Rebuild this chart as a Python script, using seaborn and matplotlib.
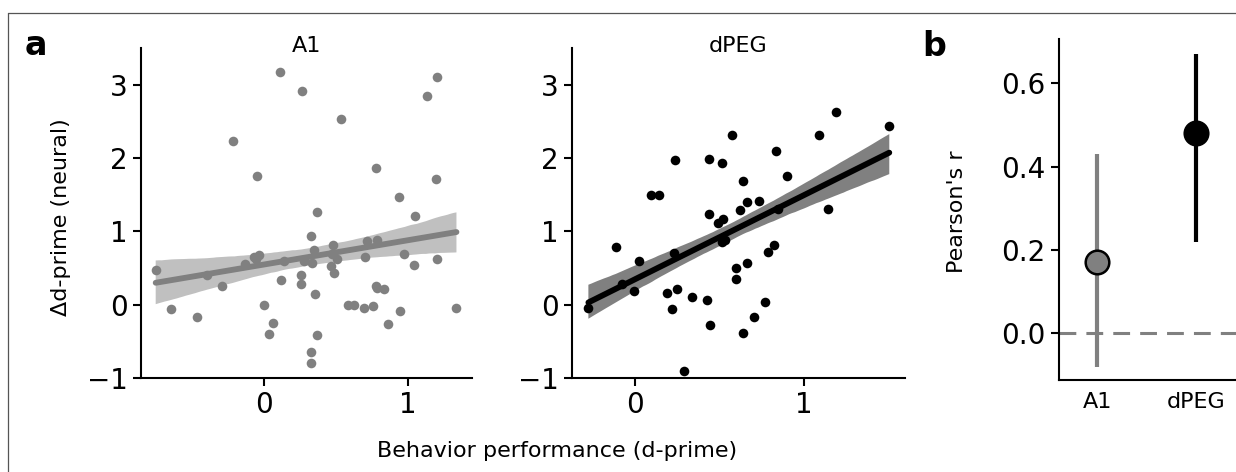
import numpy as np
import pandas as pd
import matplotlib
matplotlib.use("Agg")
import matplotlib.pyplot as plt
from matplotlib.collections import PolyCollection
from matplotlib.lines import Line2D
import seaborn as sns

# ---------------- data ----------------
a1_x = [0.111, 0.264, 0.535, -0.213, -0.051, 0.775, 0.368, 0.329, -0.752, -0.646,
        -0.468, -0.393, -0.289, -0.132, -0.069, -0.035, -0.056, 0.002, 0.06, 0.035,
        0.12, 0.137, 0.259, 0.255, 0.278, 0.331, 0.35, 0.352, 0.366, 0.324,
        0.324, 0.479, 0.475, 0.505, 0.465, 0.484, 0.581, 0.625, 0.697, 0.759,
        0.701, 0.715, 0.775, 0.782, 1.199, 1.134, 1.192, 0.940, 1.051, 0.970,
        1.042, 1.201, 0.782, 0.836, 0.947, 0.863, 1.336]
a1_y = [3.17, 2.92, 2.53, 2.23, 1.75, 1.86, 1.27, 0.94, 0.47, -0.06,
        -0.17, 0.40, 0.26, 0.56, 0.65, 0.68, 0.62, 0.0, -0.25, -0.40,
        0.33, 0.60, 0.40, 0.28, 0.60, 0.57, 0.74, 0.15, -0.42, -0.65,
        -0.79, 0.81, 0.69, 0.62, 0.53, 0.43, 0.0, 0.0, -0.04, -0.02,
        0.65, 0.87, 0.26, 0.88, 3.11, 2.84, 1.72, 1.47, 1.21, 0.69,
        0.54, 0.62, 0.23, 0.21, -0.08, -0.26, -0.05]

dpeg_x = [-0.276, -0.114, -0.075, -0.008, 0.024, 0.095, 0.142, 0.235, 0.233, 0.189,
          0.247, 0.219, 0.337, 0.292, 0.436, 0.513, 0.572, 0.440, 0.489, 0.523,
          0.513, 0.534, 0.424, 0.442, 0.598, 0.598, 0.665, 0.621, 0.663, 0.641,
          0.736, 0.641, 0.704, 0.771, 0.787, 0.824, 0.832, 0.899, 0.848, 1.189,
          1.091, 1.505, 1.144]
dpeg_y = [-0.04, 0.79, 0.28, 0.19, 0.59, 1.49, 1.49, 1.97, 0.71, 0.16,
          0.22, -0.06, 0.10, -0.91, 1.99, 1.93, 2.31, 1.24, 1.12, 1.17,
          0.85, 0.88, 0.07, -0.28, 0.50, 0.35, 0.57, 1.29, 1.40, 1.69,
          1.42, -0.38, -0.17, 0.03, 0.72, 0.82, 2.10, 1.75, 1.31, 2.63,
          2.31, 2.44, 1.31]

regions = ["A1", "dPEG"]
pearson_r = [0.17, 0.48]
ci_low = [-0.08, 0.22]
ci_high = [0.43, 0.67]

# ---------------- style ----------------
sns.set_style("ticks")
plt.rcParams["font.family"] = ["DejaVu Sans"]
plt.rcParams["text.color"] = "black"
plt.rcParams["axes.labelcolor"] = "black"
plt.rcParams["axes.linewidth"] = 1.5
plt.rcParams["xtick.major.width"] = 1.5
plt.rcParams["ytick.major.width"] = 1.5
plt.rcParams["xtick.major.size"] = 6
plt.rcParams["ytick.major.size"] = 6
plt.rcParams["xtick.color"] = "black"
plt.rcParams["ytick.color"] = "black"
plt.rcParams["xtick.labelcolor"] = "black"
plt.rcParams["ytick.labelcolor"] = "black"
plt.rcParams["axes.edgecolor"] = "black"

W, H = 1236, 472
fig = plt.figure(figsize=(W / 100, H / 100), dpi=100)


def px_axes(l, r, t, b):
    return fig.add_axes([l / W, 1 - b / H, (r - l) / W, (b - t) / H])


ax1 = px_axes(141, 472, 48, 378)
ax2 = px_axes(572, 905, 48, 378)
ax3 = px_axes(1059, 1240, 39, 380)

panels = [
    (ax1, a1_x, a1_y, "#808080", "#c0c0c0", "A1", (-0.854, 1.444)),
    (ax2, dpeg_x, dpeg_y, "black", "#808080", "dPEG", (-0.373, 1.598)),
]
for ax, xs, ys, col, band, title, xl in panels:
    df = pd.DataFrame({"x": xs, "y": ys})
    sns.regplot(data=df, x="x", y="y", ax=ax, ci=68, seed=0, color=col,
                scatter_kws={"s": 48, "linewidths": 0, "zorder": 3, "alpha": 1},
                line_kws={"lw": 4.2, "zorder": 2.5})
    for c in ax.collections:
        if isinstance(c, PolyCollection):
            c.set_facecolor(band)
            c.set_alpha(1)
            c.set_edgecolor("none")
            c.set_zorder(2)
    ax.set_xlim(*xl)
    ax.set_ylim(-1, 3.5)
    ax.set_xticks([0, 1])
    ax.set_yticks([-1, 0, 1, 2, 3])
    ax.tick_params(labelsize=20)
    ax.set_xlabel("")
    ax.set_ylabel("")
    ax.set_title(title, fontsize=16, y=1.0, pad=-2.8, color="black")
    sns.despine(ax=ax)

# panel b
for i, (reg, r, lo, hi) in enumerate(zip(regions, pearson_r, ci_low, ci_high)):
    col = "#808080" if reg == "A1" else "black"
    ax3.errorbar([i], [r], yerr=[[r - lo], [hi - r]], fmt="o", color=col,
                 ecolor=col, elinewidth=3, capsize=0, markersize=17,
                 markerfacecolor=col, markeredgecolor="black",
                 markeredgewidth=1.8, zorder=3)
ax3.axhline(0, color="#808080", lw=2.2, ls=(0, (5.5, 3.3)), zorder=1)
ax3.set_xlim(-0.388, 1.45)
ax3.set_ylim(-0.112, 0.706)
ax3.set_yticks([0.0, 0.2, 0.4, 0.6])
ax3.set_yticklabels(["0.0", "0.2", "0.4", "0.6"])
ax3.set_xticks([0, 1])
ax3.set_xticklabels(regions)
ax3.tick_params(axis="y", labelsize=20)
ax3.tick_params(axis="x", labelsize=16, length=0, pad=9)
sns.despine(ax=ax3)

# labels
fig.text(61 / W, 1 - 217 / H, "Δd-prime (neural)", rotation=90,
         ha="center", va="center", fontsize=16)
fig.text(557 / W, 1 - 457 / H, "Behavior performance (d-prime)",
         ha="center", va="baseline", fontsize=16)
fig.text(957 / W, 1 - 212 / H, "Pearson's r", rotation=90,
         ha="center", va="center", fontsize=16)
fig.text(25 / W, 1 - 55 / H, "a", fontsize=24, fontweight="bold",
         ha="left", va="baseline")
fig.text(922 / W, 1 - 56 / H, "b", fontsize=24, fontweight="bold",
         ha="left", va="baseline")

# frame
fig.add_artist(Line2D([8.3 / W, 1.0], [1 - 12.5 / H, 1 - 12.5 / H],
                      transform=fig.transFigure, color="#555555", lw=0.9))
fig.add_artist(Line2D([8.3 / W, 8.3 / W], [0.0, 1 - 12.5 / H],
                      transform=fig.transFigure, color="#555555", lw=0.9))

fig.savefig("out.png", dpi=100)
